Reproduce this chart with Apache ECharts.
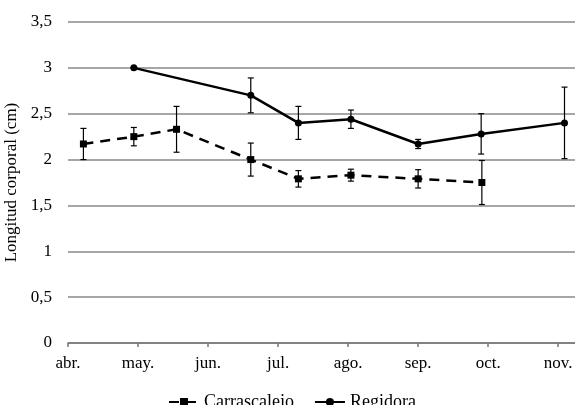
<!DOCTYPE html>
<html>
<head>
<meta charset="utf-8">
<script src="https://cdn.jsdelivr.net/npm/echarts@6/dist/echarts.min.js"></script>
<style>html,body{margin:0;padding:0;background:#fff;}#c{width:575px;height:405px;}</style>
</head>
<body>
<div id="c"></div>
<script>
// Month tick labels (x axis unit = months since start of April)
const monthLabels = ['abr.', 'may.', 'jun.', 'jul.', 'ago.', 'sep.', 'oct.', 'nov.'];
// Sampling positions (months since April 1)
const carrX = [0.22, 0.94, 1.55, 2.61, 3.29, 4.04, 5.0, 5.91];
const carrY = [2.17, 2.25, 2.33, 2.00, 1.79, 1.83, 1.79, 1.75];
const carrErr = [0.17, 0.10, 0.25, 0.18, 0.09, 0.065, 0.10, 0.24];
const regX = [0.94, 2.61, 3.29, 4.04, 5.0, 5.9, 7.09];
const regY = [3.00, 2.70, 2.40, 2.44, 2.17, 2.28, 2.40];
const regErr = [0, 0.19, 0.18, 0.10, 0.05, 0.22, 0.39];
const seriesNames = ['Carrascalejo', 'Regidora'];

const chart = echarts.init(document.getElementById('c'), null, {renderer: 'canvas'});
const font = '"Liberation Serif", "Times New Roman", serif';

function pts(xs, ys) { return xs.map((x, i) => [x, ys[i]]); }
function errData(xs, ys, es) { return xs.map((x, i) => [x, ys[i] - es[i], ys[i] + es[i]]); }

function errRender(params, api) {
  const lo = api.coord([api.value(0), api.value(1)]);
  const hi = api.coord([api.value(0), api.value(2)]);
  const hw = 3;
  const style = {stroke: '#000', lineWidth: 1.2};
  return {
    type: 'group',
    children: [
      {type: 'line', shape: {x1: lo[0], y1: lo[1], x2: hi[0], y2: hi[1]}, style},
      {type: 'line', shape: {x1: lo[0] - hw, y1: lo[1], x2: lo[0] + hw, y2: lo[1]}, style},
      {type: 'line', shape: {x1: hi[0] - hw, y1: hi[1], x2: hi[0] + hw, y2: hi[1]}, style}
    ]
  };
}

chart.setOption({
  animation: false,
  backgroundColor: '#fff',
  grid: {left: 68, right: 0, top: 22, bottom: 62, containLabel: false, outerBoundsMode: 'none'},
  legend: {
    data: seriesNames,
    left: 163,
    top: 388,
    itemWidth: 30,
    itemHeight: 10,
    itemGap: 20,
    textStyle: {fontFamily: font, fontSize: 18, color: '#000'}
  },
  xAxis: {
    type: 'value',
    min: 0,
    max: 7.24,
    interval: 1,
    axisLine: {show: true, lineStyle: {color: '#777', width: 1.5}},
    axisTick: {show: true, length: 4, lineStyle: {color: '#777', width: 1.5}},
    splitLine: {show: false},
    axisLabel: {
      showMaxLabel: false,
      margin: 12,
      fontFamily: font, fontSize: 17, color: '#000',
      formatter: v => monthLabels[Math.round(v)] || ''
    }
  },
  yAxis: {
    type: 'value',
    min: 0,
    max: 3.5,
    interval: 0.5,
    name: 'Longitud corporal (cm)',
    nameLocation: 'middle',
    nameGap: 40,
    nameTextStyle: {fontFamily: font, fontSize: 17, color: '#000'},
    axisLine: {show: false},
    axisTick: {show: false},
    splitLine: {show: true, lineStyle: {color: '#888', width: 1.5}},
    axisLabel: {
      margin: 16,
      fontFamily: font, fontSize: 17, color: '#000',
      formatter: v => String(v).replace('.', ',')
    }
  },
  series: [
    {
      name: 'Carrascalejo', type: 'line', data: pts(carrX, carrY),
      symbol: 'rect', symbolSize: 7,
      itemStyle: {color: '#000'},
      lineStyle: {color: '#000', width: 2.5, type: [10, 7]},
      z: 3
    },
    {
      name: 'Regidora', type: 'line', data: pts(regX, regY),
      symbol: 'circle', symbolSize: 7,
      itemStyle: {color: '#000'},
      lineStyle: {color: '#000', width: 2.5},
      z: 3
    },
    {
      name: 'errC', type: 'custom', renderItem: errRender,
      data: errData(carrX, carrY, carrErr), encode: {x: 0, y: [1, 2]}, z: 2, silent: true
    },
    {
      name: 'errR', type: 'custom', renderItem: errRender,
      data: errData(regX, regY, regErr), encode: {x: 0, y: [1, 2]}, z: 2, silent: true
    }
  ]
});
</script>
</body>
</html>
